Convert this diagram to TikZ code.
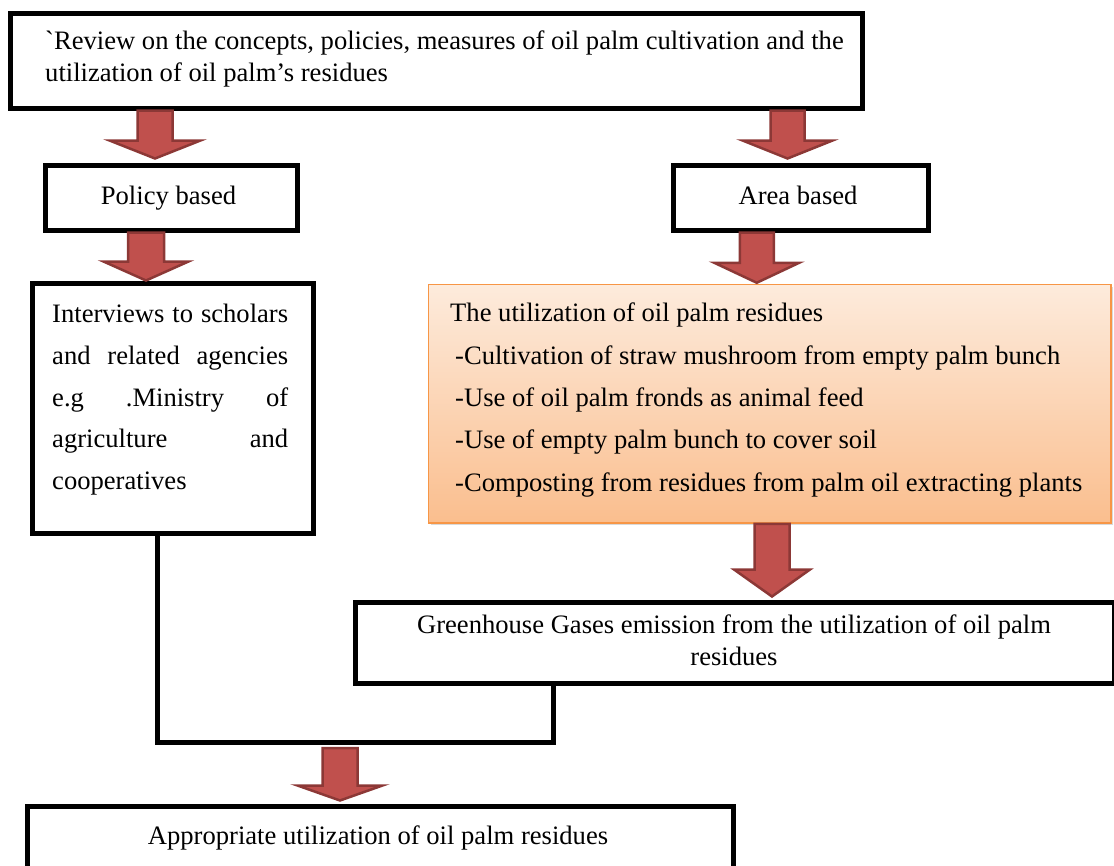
\documentclass[tikz,border=0pt]{standalone}
\usepackage{fontspec}
\setmainfont{Liberation Serif}
\newfontfamily\rawserif{Liberation Serif}
\usetikzlibrary{calc,shadows}
\definecolor{arrowred}{RGB}{192,80,77}
\definecolor{arrowdark}{RGB}{140,56,54}
\definecolor{orangetop}{RGB}{253,235,220}
\definecolor{orangebot}{RGB}{250,190,142}
\definecolor{orangeline}{RGB}{247,150,70}
\newcommand\mainsize{\fontsize{26.6pt}{32pt}\selectfont}
% block arrow: #1 start, #2 tip, #3 shaft half width, #4 head half width, #5 head length
\newcommand\blockarr[5]{%
  \path[blockarrow] let \p1=#1, \p2=#2 in
    (\x1-#3,\y1) -- (\x1+#3,\y1) -- (\x1+#3,\y2+#5) -- (\x1+#4,\y2+#5) --
    (\x1,\y2) -- (\x1-#4,\y2+#5) -- (\x1-#3,\y2+#5) -- cycle;}
\begin{document}
\begin{tikzpicture}[x=1pt,y=-1pt,
  bbox/.style={draw=black, line width=5pt, fill=white, inner sep=0pt, anchor=north west,
    drop shadow={shadow xshift=2pt, shadow yshift=-2pt, opacity=0.25, fill=gray}},
  obox/.style={draw=orangeline, line width=1.5pt, top color=orangetop, bottom color=orangebot,
    inner sep=0pt, anchor=north west,
    drop shadow={shadow xshift=2pt, shadow yshift=-2pt, opacity=0.3, fill=gray}},
  txt/.style={font=\mainsize, inner sep=0pt},
  blockarrow/.style={fill=arrowred, draw=arrowdark, line width=2.5pt, line join=miter},
  conn/.style={draw=black, line width=5pt},
  connshadow/.style={draw=gray!40, line width=5pt}]
\clip (0,0) rectangle (1114,865);
% boxes
\node[bbox, minimum width=852pt, minimum height=95pt] (top) at (7.5,10.5) {};
\node[bbox, minimum width=252pt, minimum height=65pt] (pol) at (42.5,162.5) {};
\node[bbox, minimum width=255pt, minimum height=65pt] (area) at (670.5,162.5) {};
\node[bbox, minimum width=281pt, minimum height=250pt] (int) at (29.5,280.5) {};
\node[obox, minimum width=682.5pt, minimum height=238.5pt] (res) at (427.75,283.75) {};
\node[bbox, minimum width=759pt, minimum height=81pt] (gh) at (352.5,599.5) {};
\node[bbox, minimum width=706pt, minimum height=100pt] (app) at (24.5,803.5) {};
% texts
\node[txt, anchor=base west] (t1a) at (45,49) {{\rawserif`}Review on the concepts, policies, measures of oil palm cultivation and the};
\node[txt, anchor=base west] (t1b) at (45,81) {utilization of oil palm’s residues};
\node[txt, anchor=base] (tpol) at (168.5,204) {Policy based};
\node[txt, anchor=base] (tarea) at (798,204) {Area based};
\node[txt, anchor=base west] (ti1) at (52,322) {\makebox[236pt][s]{Interviews to scholars}};
\node[txt, anchor=base west] (ti2) at (52,364) {\makebox[236pt][s]{and related agencies}};
\node[txt, anchor=base west] (ti3) at (52,406) {\makebox[236pt][s]{e.g \hspace{1em} .Ministry \hspace{1em} of}};
\node[txt, anchor=base west] (ti4) at (52,447) {\makebox[236pt][s]{agriculture \hspace{1em} and}};
\node[txt, anchor=base west] (ti5) at (52,489) {cooperatives};
\node[txt, anchor=base west] (tr0) at (450,321) {The utilization of oil palm residues};
\node[txt, anchor=base west] (tr1) at (455,364) {-Cultivation of straw mushroom from empty palm bunch};
\node[txt, anchor=base west] (tr2) at (455,406) {-Use of oil palm fronds as animal feed};
\node[txt, anchor=base west] (tr3) at (455,448) {-Use of empty palm bunch to cover soil};
\node[txt, anchor=base west] (tr4) at (455,491) {-Composting from residues from palm oil extracting plants};
\node[txt, anchor=base] (tg1) at (734,633) {Greenhouse Gases emission from the utilization of oil palm};
\node[txt, anchor=base] (tg2) at (734,665) {residues};
\node[txt, anchor=base] (tapp) at (378,844) {Appropriate utilization of oil palm residues};
% connector joining the two branches
\coordinate (j1) at (157,742);
\coordinate (j2) at (553,742);
\begin{scope}[xshift=2pt, yshift=-2pt]
  \draw[connshadow] (int.south -| j1) -- (j1) -- (j2) -- (gh.south -| j2);
\end{scope}
\draw[conn] (int.south -| j1) -- (j1) -- (j2) -- (gh.south -| j2);
\coordinate (a6s) at (340,748);
% block arrows
\blockarr{($(pol.north |- top.south)+(-16,0)$)}{($(pol.north)+(-16,-4)$)}{17.5pt}{45.5pt}{18pt}
\blockarr{($(int.north |- pol.south)+(-26.5,0)$)}{($(int.north)+(-26.5,0)$)}{18pt}{42.5pt}{19pt}
\blockarr{($(area.north |- top.south)+(-13,0)$)}{($(area.north)+(-13,-4)$)}{17pt}{45pt}{18pt}
\blockarr{($(res.north |- area.south)+(-13,0)$)}{($(res.north)+(-13,-1)$)}{17pt}{42.5pt}{20pt}
\blockarr{($(gh.north |- res.south)+(37.5,0)$)}{($(gh.north)+(37.5,-3)$)}{17.5pt}{38pt}{27pt}
\blockarr{(a6s)}{($(app.north)+(-37.5,-3)$)}{17.5pt}{42.5pt}{15pt}
\end{tikzpicture}
\end{document}
